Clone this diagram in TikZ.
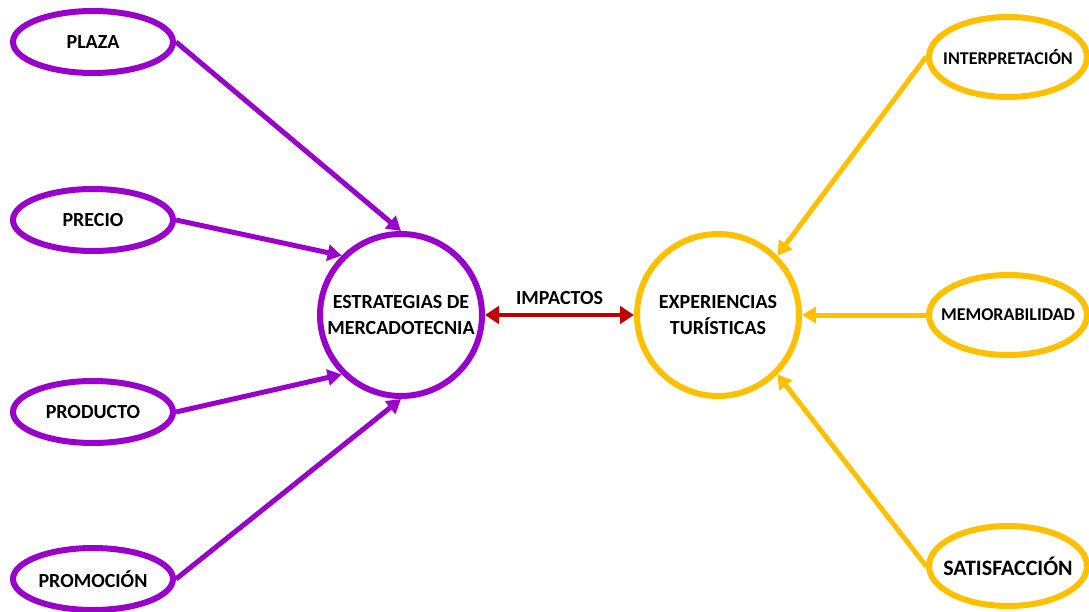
\documentclass[tikz,border=0pt]{standalone}
\usepackage{fontspec}
\setmainfont{Carlito}
\usepackage{xcolor}
\usepackage{tikz}
\usetikzlibrary{shapes.geometric,arrows.meta}

\definecolor{violeta}{HTML}{9900CC}
\definecolor{oro}{HTML}{FFC000}
\definecolor{rojo}{HTML}{C00000}

\begin{document}
\begin{tikzpicture}[x=0.75pt,y=-0.75pt,
  izq/.style={ellipse,draw=violeta,line width=4.5pt,fill=white,inner sep=0pt,minimum width=120pt,minimum height=46.5pt,font=\bfseries\fontsize{15}{19.5}\selectfont},
  der/.style={ellipse,draw=oro,line width=4.5pt,fill=white,inner ysep=0pt,inner xsep=-25pt,minimum width=118.5pt,minimum height=60pt,font=\bfseries\fontsize{13.5}{16}\selectfont},
  centro/.style={circle,line width=4.5pt,fill=white,inner sep=0pt,minimum size=121.5pt,align=center,font=\bfseries\fontsize{15}{19.5}\selectfont},
  flecha/.style={line width=3.75pt,-{Triangle[length=10.5pt,width=12pt]}}]
\useasboundingbox (0,0) rectangle (1089,611);
% lado izquierdo
\node[izq] (1) at (93,42) {PLAZA};
\node[izq] (2) at (93,220) {PRECIO};
\node[izq] (3) at (93,412) {PRODUCTO};
\node[izq] (4) at (93,579) {PROMOCIÓN};
\node[centro,draw=violeta] (5) at (401,315) {ESTRATEGIAS DE\\MERCADOTECNIA};
% lado derecho
\node[centro,draw=oro] (6) at (718,315) {EXPERIENCIAS\\TURÍSTICAS};
\node[der] (7) at (1008,57) {INTERPRETACIÓN};
\node[der] (8) at (1008,315) {MEMORABILIDAD};
\node[der,font=\bfseries\fontsize{16.5}{19}\selectfont] (9) at (1008,566) {SATISFACCIÓN};
\draw[flecha,violeta] (1.east) -- (5.north);
\draw[flecha,violeta] (2.east) -- (5.north west);
\draw[flecha,violeta] (3.east) -- (5.south west);
\draw[flecha,violeta] (4.east) -- (5.south);
\draw[flecha,oro] (7.west) -- (6.north east);
\draw[flecha,oro] (8.west) -- (6.east);
\draw[flecha,oro] (9.west) -- (6.south east);
\draw[rojo,line width=3pt,{Triangle[length=10.5pt,width=13pt]}-{Triangle[length=10.5pt,width=13pt]}] (5.east) -- node[above=3pt,black,font=\bfseries\fontsize{15}{18}\selectfont] {IMPACTOS} (6.west);
\end{tikzpicture}
\end{document}
